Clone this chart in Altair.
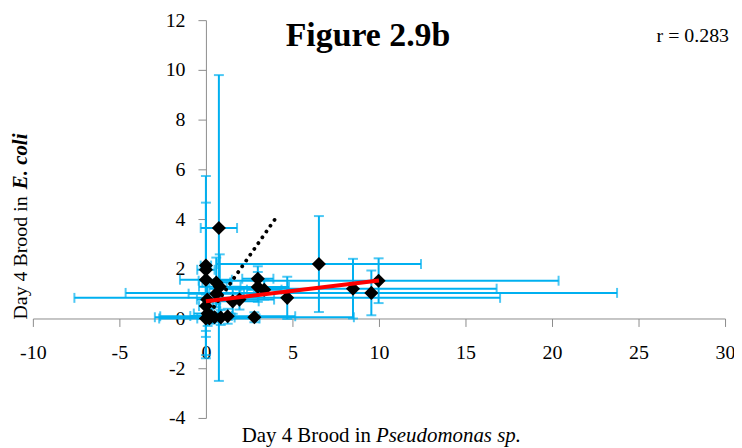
import altair as alt
import pandas as pd

# Data
px = [0.75, 0.0, 0.0, 0.0, 0.6, 0.8, 3.0, 3.0, 3.37, 1.94, 1.55, 4.7, 0.08, 0.0, 0.1,
      0.3, 0.0, 0.5, 1.26, 2.8, 0.86, 6.53, 8.5, 9.56, 9.98, 0.2, 0.6]
py = [3.64, 2.13, 1.96, 1.56, 1.45, 1.28, 1.6, 1.27, 1.16, 0.76, 0.69, 0.83, 0.76, 0.5, 0.2,
      0.1, 0.0, 0.05, 0.09, 0.05, 0.04, 2.19, 1.2, 1.03, 1.52, 0.0, 1.0]
px_err = [1.05, 0.3, 0.5, 1.5, 0.8, 1.2, 0.9, 1.8, 1.0, 2.0, 1.5, 12.3, 0.6, 0.4, 0.8,
          1.2, 0.5, 0.3, 3.9, 5.75, 0.8, 5.9, 8.3, 14.2, 10.4, 2.9, 1.6]
py_err = [6.15, 3.6, 2.7, 0.6, 1.0, 1.3, 0.5, 0.6, 0.4, 0.4, 0.5, 0.85, 0.7, 1.0, 0.5,
          0.3, 1.6, 0.2, 0.3, 0.2, 0.3, 1.93, 1.2, 0.9, 0.9, 0.2, 0.4]

trend_x = [0.0, 10.0]
trend_y = [0.69, 1.53]
ref_x = [0.0, 4.0]
ref_y = [0.0, 4.0]

x_ticks = [-10, -5, 0, 5, 10, 15, 20, 25, 30]
y_ticks = [-4, -2, 0, 2, 4, 6, 8, 10, 12]

pts = pd.DataFrame({"x": px, "y": py, "xe": px_err, "ye": py_err})
trend = pd.DataFrame({"x": trend_x, "y": trend_y})
ref = pd.DataFrame({"x": ref_x, "y": ref_y})
one = pd.DataFrame({"k": [0]})

FONT = "Liberation Serif"
BLUE = "#00B0F0"
AX = "#8C8C8C"

xscale = alt.Scale(domain=[-10, 30], nice=False, zero=False)
yscale = alt.Scale(domain=[-4, 12], nice=False, zero=False)

xaxis = alt.Axis(values=x_ticks, title=None, offset=-100, grid=False, domainColor=AX,
                 tickColor=AX, tickSize=8, labelPadding=16, labelFont=FONT, labelFontSize=20,
                 labelColor="black", labelFlush=False, labelOverlap=False, labelBound=False,
                 labelExpr="'' + datum.value")
yaxis = alt.Axis(values=y_ticks, title=None, offset=-174, grid=False, domainColor=AX,
                 tickColor=AX, tickSize=8, labelPadding=13, labelFont=FONT, labelFontSize=20,
                 labelColor="black", labelFlush=False, labelOverlap=False, labelBound=False,
                 labelExpr="'' + datum.value")

base = alt.Chart(pts).transform_calculate(
    xlo="datum.x - datum.xe", xhi="datum.x + datum.xe",
    ylo="datum.y - datum.ye", yhi="datum.y + datum.ye")

xbars = base.mark_rule(color=BLUE, strokeWidth=2).encode(
    x=alt.X("xlo:Q", scale=xscale, axis=xaxis), x2="xhi:Q",
    y=alt.Y("y:Q", scale=yscale, axis=yaxis))
ybars = base.mark_rule(color=BLUE, strokeWidth=2).encode(
    x=alt.X("x:Q"), y=alt.Y("ylo:Q"), y2="yhi:Q")
xcap_lo = base.mark_tick(color=BLUE, orient="vertical", size=10, thickness=2).encode(
    x="xlo:Q", y="y:Q")
xcap_hi = base.mark_tick(color=BLUE, orient="vertical", size=10, thickness=2).encode(
    x="xhi:Q", y="y:Q")
ycap_lo = base.mark_tick(color=BLUE, orient="horizontal", size=10, thickness=2).encode(
    x="x:Q", y="ylo:Q")
ycap_hi = base.mark_tick(color=BLUE, orient="horizontal", size=10, thickness=2).encode(
    x="x:Q", y="yhi:Q")

refline = alt.Chart(ref).mark_line(color="black", strokeWidth=3.8, strokeDash=[0.1, 7],
                                   strokeCap="round").encode(x="x:Q", y="y:Q")
points = alt.Chart(pts).mark_point(shape="diamond", filled=True, color="black",
                                   size=200, opacity=1).encode(x="x:Q", y="y:Q")
trendline = alt.Chart(trend).mark_line(color="#FF0000", strokeWidth=4).encode(
    x="x:Q", y="y:Q")

title = alt.Chart(one).mark_text(text="Figure 2.9b", font=FONT, fontSize=34,
                                 fontWeight="bold", align="center", baseline="alphabetic",
                                 color="black").encode(x=alt.value(337), y=alt.value(26))
rtext = alt.Chart(one).mark_text(text="r = 0.283", font=FONT, fontSize=20, align="right",
                                 baseline="alphabetic", color="black").encode(
    x=alt.value(700), y=alt.value(22))
xt1 = alt.Chart(one).mark_text(text="Day 4 Brood in", font=FONT, fontSize=21, align="right",
                               baseline="alphabetic", color="black").encode(
    x=alt.value(340), y=alt.value(424))
xt2 = alt.Chart(one).mark_text(text="Pseudomonas sp.", font=FONT, fontSize=21, align="left",
                               fontStyle="italic", baseline="alphabetic", color="black").encode(
    x=alt.value(345), y=alt.value(424))
yt1 = alt.Chart(one).mark_text(text="Day 4 Brood in", font=FONT, fontSize=20, align="left",
                               angle=270, baseline="alphabetic", color="black").encode(
    x=alt.value(-6), y=alt.value(301))
yt2 = alt.Chart(one).mark_text(text="E. coli", font=FONT, fontSize=21, align="left",
                               angle=270, fontStyle="italic", fontWeight="bold",
                               baseline="alphabetic", color="black").encode(
    x=alt.value(-6), y=alt.value(170))

chart = alt.layer(xbars, ybars, xcap_lo, xcap_hi, ycap_lo, ycap_hi, refline, points,
                  trendline, title, rtext, xt1, xt2, yt1, yt2).properties(
    width=696, height=400,
    autosize=alt.AutoSizeParams(type="none"),
    padding={"left": 25, "top": 11, "right": 9, "bottom": 29},
    background="white",
).configure_view(stroke=None)

chart.save("out.html", embed_options={"renderer": "svg", "actions": False})
